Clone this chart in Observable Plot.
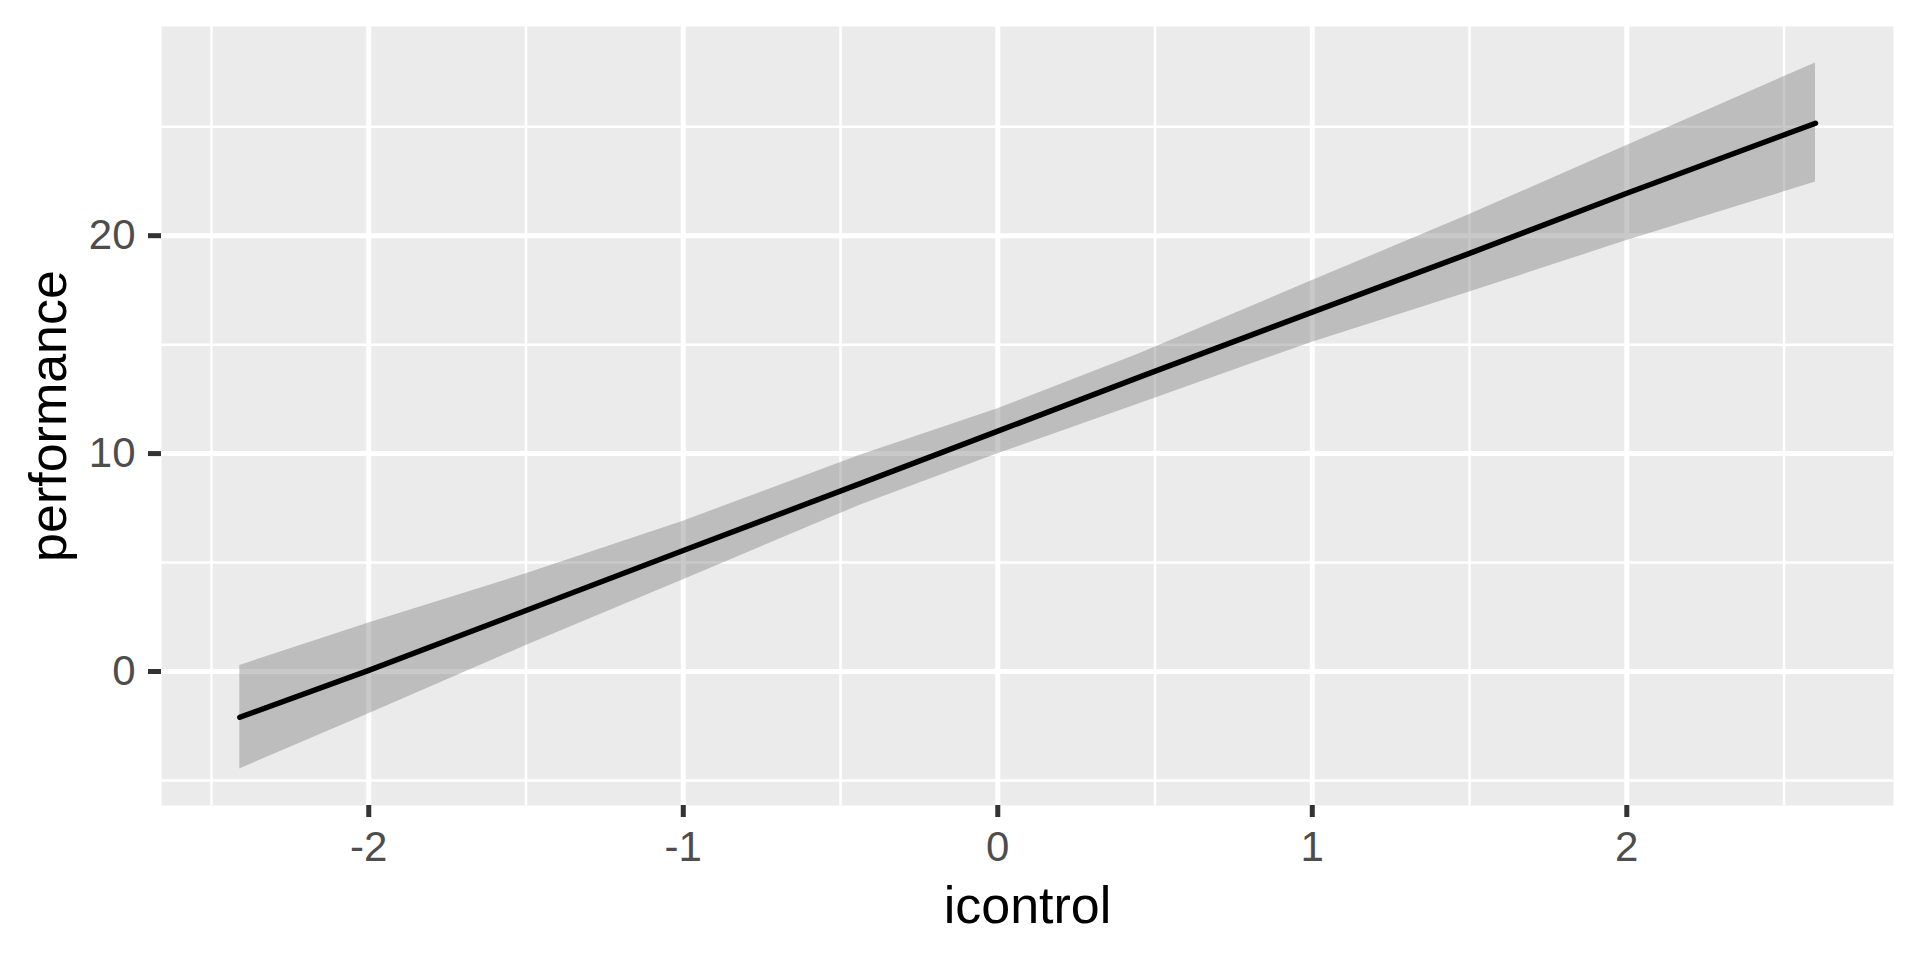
<!DOCTYPE html>
<html>
<head>
<meta charset="utf-8">
<script src="https://cdn.jsdelivr.net/npm/d3@7"></script>
<script src="https://cdn.jsdelivr.net/npm/@observablehq/plot@0.6"></script>
<style>
  html, body { margin: 0; padding: 0; background: #fff; }
  #chart svg { display: block; }
</style>
</head>
<body>
<div id="chart"></div>
<script>
// Values
const icontrol    = [-2.41, -2.0, -1.5, -1.0, -0.44, 0.0, 0.45, 1.0, 1.5, 2.0, 2.6];
const fitValues   = [-2.10, 0.05, 2.80, 5.55, 8.61, 11.03, 13.51, 16.49, 19.19, 21.95, 25.16];
const upperValues = [0.28, 2.22, 4.48, 6.90, 9.91, 12.06, 14.58, 17.94, 20.97, 24.14, 27.93];
const lowerValues = [-4.47, -1.94, 1.19, 4.21, 7.62, 9.99, 12.29, 15.11, 17.41, 19.78, 22.46];

const xTicks = [-2, -1, 0, 1, 2];
const xMinor = [-2.5, -1.5, -0.5, 0.5, 1.5, 2.5];
const yTicks = [0, 10, 20];
const yMinor = [-5, 5, 15, 25];

const xTitle = "icontrol";
const yTitle = "performance";

const data = icontrol.map((x, i) => ({x, fit: fitValues[i], upper: upperValues[i], lower: lowerValues[i]}));

const W = 1920, H = 960, ML = 161, MR = 27, MT = 26, MB = 155;
const frameW = W - ML - MR, frameH = H - MT - MB;

const chart = Plot.plot({
  width: W,
  height: H,
  marginLeft: ML,
  marginRight: MR,
  marginTop: MT,
  marginBottom: MB,
  style: {fontFamily: "'Liberation Sans', Arial, sans-serif", background: "#fff", overflow: "visible"},
  x: {domain: [-2.659, 2.848]},
  y: {domain: [-6.15, 29.6]},
  marks: [
    Plot.frame({fill: "#EBEBEB", stroke: null}),
    Plot.ruleX(xMinor, {stroke: "#fff", strokeWidth: 2.5}),
    Plot.ruleY(yMinor, {stroke: "#fff", strokeWidth: 2.5}),
    Plot.ruleX(xTicks, {stroke: "#fff", strokeWidth: 5}),
    Plot.ruleY(yTicks, {stroke: "#fff", strokeWidth: 5}),
    Plot.areaY(data, {x: "x", y1: "lower", y2: "upper", fill: "#777", fillOpacity: 0.4}),
    Plot.line(data, {x: "x", y: "fit", stroke: "#000", strokeWidth: 5.5}),
    // tick marks outside the panel
    Plot.ruleX(xTicks, {stroke: "#333", strokeWidth: 5, insetTop: frameH, insetBottom: -12}),
    Plot.ruleY(yTicks, {stroke: "#333", strokeWidth: 5, insetRight: frameW, insetLeft: -13}),
    Plot.axisX({ticks: xTicks, tickSize: 0, tickPadding: 26, fill: "#4D4D4D", fontSize: 42, label: null, tickFormat: d => String(d)}),
    Plot.axisY({ticks: yTicks, tickSize: 0, tickPadding: 26, fill: "#4D4D4D", fontSize: 42, label: null, tickFormat: d => String(d)}),
    Plot.text([xTitle], {frameAnchor: "bottom", dy: 117, lineAnchor: "bottom", textAnchor: "middle", fontSize: 52, fill: "#000"}),
    Plot.text([yTitle], {frameAnchor: "left", dx: -96, rotate: -90, lineAnchor: "bottom", textAnchor: "middle", fontSize: 52, fill: "#000"})
  ]
});
document.getElementById("chart").appendChild(chart);
</script>
</body>
</html>
